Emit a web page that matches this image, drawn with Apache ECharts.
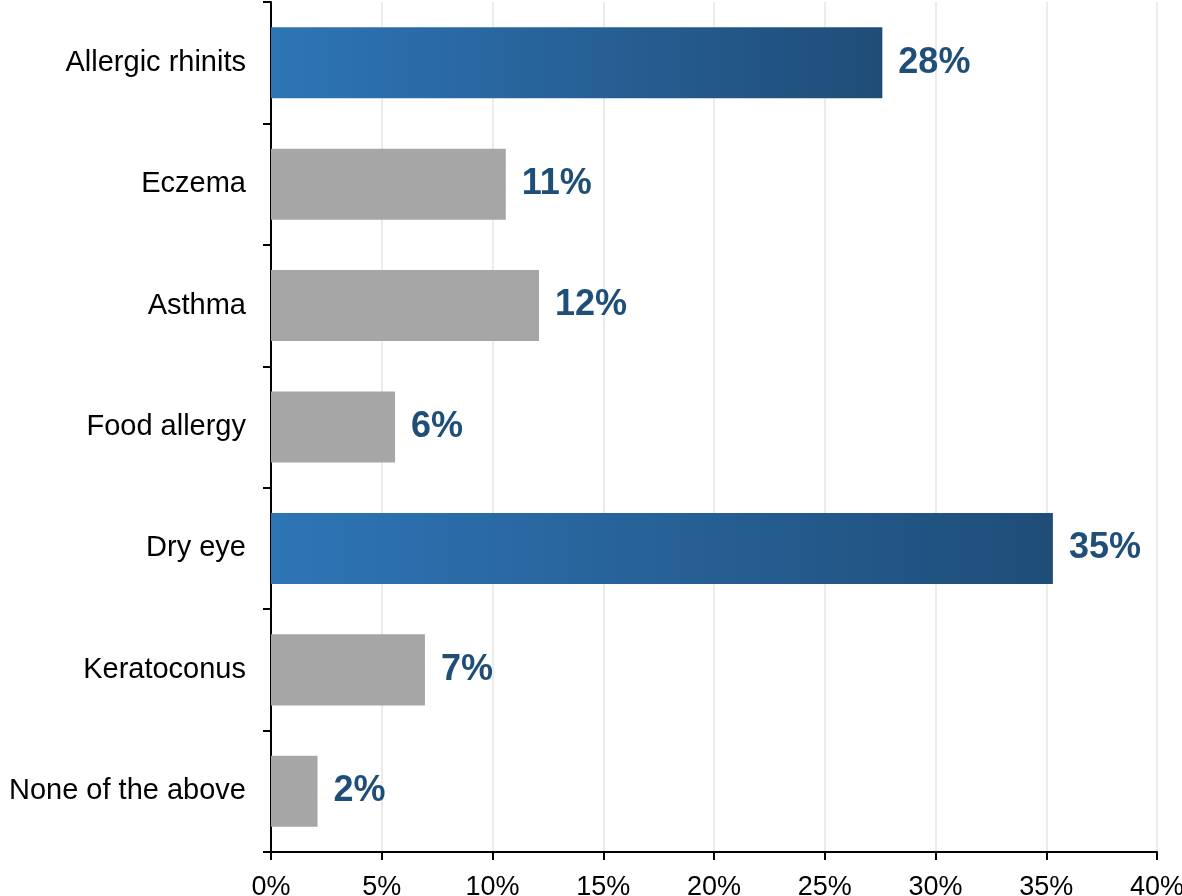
<!DOCTYPE html>
<html>
<head>
<meta charset="utf-8">
<script src="https://cdn.jsdelivr.net/npm/echarts@6/dist/echarts.min.js"></script>
<style>
  html, body { margin: 0; padding: 0; background: #ffffff; }
  #chart { width: 1182px; height: 896px; }
</style>
</head>
<body>
<div id="chart"></div>
<script>
// Share of respondents reporting each condition (percent)
const categories = ['Allergic rhinits', 'Eczema', 'Asthma', 'Food allergy', 'Dry eye', 'Keratoconus', 'None of the above'];
const values = [27.6, 10.6, 12.1, 5.6, 35.3, 6.95, 2.1];
const highlighted = ['Allergic rhinits', 'Dry eye'];
const xTicks = [0, 5, 10, 15, 20, 25, 30, 35, 40];

const blueGradient = new echarts.graphic.LinearGradient(0, 0, 1, 0, [
  { offset: 0, color: '#2e75b6' },
  { offset: 1, color: '#1f4d78' }
]);

const chart = echarts.init(document.getElementById('chart'), null, { renderer: 'canvas' });

chart.setOption({
  animation: false,
  textStyle: { fontFamily: '"Liberation Sans", Arial, sans-serif' },
  grid: { left: 271, right: 25, top: 2, bottom: 44, containLabel: false, outerBoundsMode: 'none' },
  xAxis: {
    type: 'value',
    min: xTicks[0],
    max: xTicks[xTicks.length - 1],
    interval: xTicks[1] - xTicks[0],
    axisLine: { show: true, onZero: false, lineStyle: { color: '#000000', width: 2 } },
    axisTick: { show: true, length: 8, lineStyle: { color: '#000000', width: 2 } },
    axisLabel: { formatter: '{value}%', fontSize: 27, color: '#000000', margin: 22, hideOverlap: false },
    splitLine: { show: true, lineStyle: { color: '#ebebeb', width: 2 } }
  },
  yAxis: {
    type: 'category',
    data: categories,
    inverse: true,
    axisLine: { show: true, lineStyle: { color: '#000000', width: 2 } },
    axisTick: { show: true, length: 8, alignWithLabel: false, lineStyle: { color: '#000000', width: 2 } },
    axisLabel: { fontSize: 29, color: '#000000', margin: 25 },
    splitLine: { show: false }
  },
  series: [{
    type: 'bar',
    barWidth: '58.5%',
    data: values.map((v, i) => ({
      value: v,
      itemStyle: { color: highlighted.includes(categories[i]) ? blueGradient : '#a6a6a6' }
    })),
    label: {
      show: true,
      position: 'right',
      distance: 16,
      formatter: p => Math.round(p.value) + '%',
      fontSize: 36,
      fontWeight: 'bold',
      color: '#1f4e79'
    }
  }]
});
</script>
</body>
</html>
